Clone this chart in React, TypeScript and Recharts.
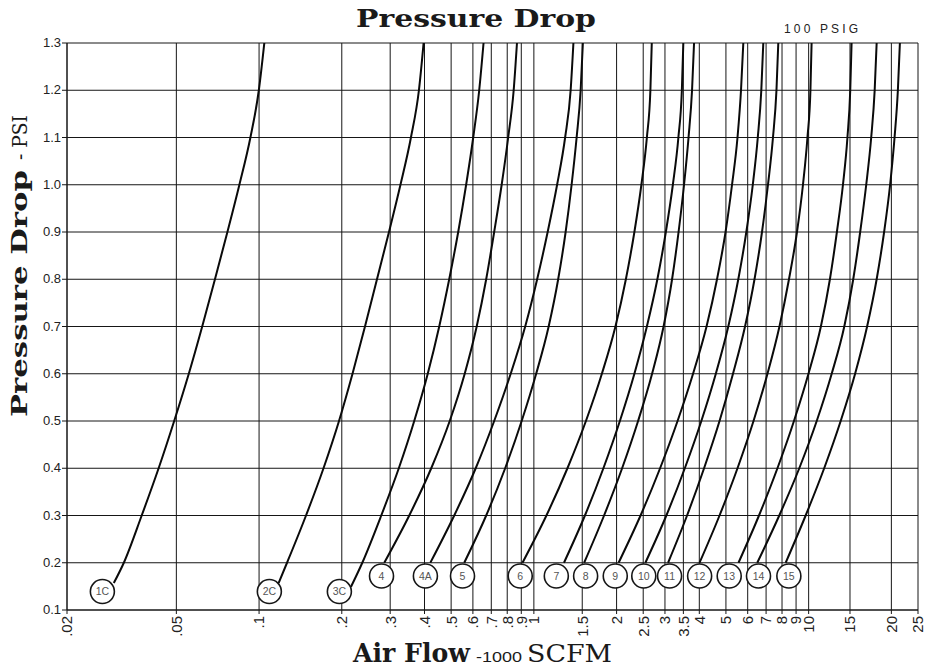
import React from 'react';
import { ComposedChart, Line, Scatter, XAxis, YAxis, CartesianGrid } from 'recharts';

// Pressure-drop levels (PSI) at which each curve's flow was read
const dropLevels = [0.2, 0.3, 0.4, 0.5, 0.6, 0.7, 0.8, 0.9, 1.0, 1.1, 1.2, 1.3];

// Air flow (1000 SCFM) of each curve at the drop levels above
const flow1C = [0.0322, 0.0374, 0.0431, 0.0491, 0.0555, 0.0621, 0.0691, 0.0767, 0.0848, 0.093, 0.0998, 0.1045];
const flow2C = [0.1264, 0.1482, 0.1716, 0.1954, 0.2188, 0.2429, 0.2686, 0.297, 0.327, 0.357, 0.3817, 0.397];
const flow3C = [0.2375, 0.2784, 0.3225, 0.367, 0.411, 0.4525, 0.492, 0.5305, 0.567, 0.6016, 0.6326, 0.656];
const flow4 = [0.2855, 0.352, 0.4232, 0.4941, 0.5602, 0.6194, 0.6707, 0.7171, 0.7636, 0.8064, 0.8444, 0.868];
const flow4A = [0.42, 0.5131, 0.6143, 0.7171, 0.8235, 0.93, 1.028, 1.1226, 1.215, 1.2995, 1.361, 1.393];
const flow5 = [0.558, 0.6707, 0.7863, 0.9029, 1.0195, 1.132, 1.226, 1.305, 1.372, 1.431, 1.48, 1.508];
const flow6 = [0.909, 1.111, 1.325, 1.547, 1.768, 1.981, 2.162, 2.322, 2.462, 2.578, 2.655, 2.686];
const flow7 = [1.287, 1.534, 1.791, 2.056, 2.322, 2.578, 2.815, 3.022, 3.205, 3.357, 3.456, 3.499];
const flow8 = [1.524, 1.801, 2.095, 2.395, 2.693, 2.965, 3.184, 3.362, 3.52, 3.655, 3.764, 3.828];
const flow9 = [2.034, 2.445, 2.88, 3.334, 3.796, 4.25, 4.64, 4.984, 5.262, 5.509, 5.673, 5.784];
const flow10 = [2.546, 3.035, 3.543, 4.069, 4.594, 5.1, 5.546, 5.932, 6.262, 6.53, 6.725, 6.838];
const flow11 = [3.079, 3.61, 4.163, 4.739, 5.305, 5.868, 6.353, 6.765, 7.112, 7.416, 7.636, 7.754];
const flow12 = [4.008, 4.739, 5.509, 6.3, 7.083, 7.83, 8.48, 9.069, 9.535, 9.9, 10.15, 10.25];
const flow13 = [5.555, 6.596, 7.699, 8.842, 9.984, 11.08, 11.95, 12.67, 13.33, 13.84, 14.17, 14.33];
const flow14 = [6.502, 7.817, 9.245, 10.7, 12.13, 13.48, 14.53, 15.4, 16.2, 16.89, 17.39, 17.68];
const flow15 = [8.249, 9.752, 11.39, 13.08, 14.76, 16.32, 17.68, 18.82, 19.79, 20.54, 21.12, 21.48];

const curveNames = ['1C', '2C', '3C', '4', '4A', '5', '6', '7', '8', '9', '10', '11', '12', '13', '14', '15'];
const curveFlows = [flow1C, flow2C, flow3C, flow4, flow4A, flow5, flow6, flow7, flow8, flow9, flow10, flow11, flow12, flow13, flow14, flow15];

// Lead-in points (below 0.2 PSI) where the curves leave their circles
const leadNames = ['1C', '2C', '3C'];
const leadFlows = [0.0296, 0.1178, 0.216];
const leadDrops = [0.157, 0.157, 0.149];

// Circled curve labels
const labelFlows = [0.0269, 0.109, 0.196, 0.279, 0.403, 0.55, 0.892, 1.207, 1.543, 1.978, 2.512, 3.118, 4.011, 5.139, 6.569, 8.472];
const labelDrops = [0.139, 0.139, 0.139, 0.172, 0.172, 0.172, 0.172, 0.172, 0.172, 0.172, 0.172, 0.172, 0.172, 0.172, 0.172, 0.172];

// Axis ticks (the original chart draws its "15" line midway between 10 and 20)
const xTickValues = [0.02, 0.05, 0.1, 0.2, 0.3, 0.4, 0.5, 0.6, 0.7, 0.8, 0.9, 1, 1.5, 2, 2.5, 3, 3.5, 4, 5, 6, 7, 8, 9, 10, 14.14, 20, 25];
const xTickLabels = ['.02', '.05', '.1', '.2', '.3', '.4', '.5', '.6', '.7', '.8', '.9', '1', '1.5', '2', '2.5', '3', '3.5', '4', '5', '6', '7', '8', '9', '10', '15', '20', '25'];
const yTickValues = [0.1, 0.2, 0.3, 0.4, 0.5, 0.6, 0.7, 0.8, 0.9, 1.0, 1.1, 1.2, 1.3];

const series = curveNames.map((name, i) => {
  const pts = dropLevels.map((d, j) => ({ x: curveFlows[i][j], y: d }));
  const li = leadNames.indexOf(name);
  if (li >= 0) pts.unshift({ x: leadFlows[li], y: leadDrops[li] });
  return { name, pts };
});

const labelData = curveNames.map((name, i) => ({ x: labelFlows[i], y: labelDrops[i], name }));

const INK = '#161616';
const SANS = '"Liberation Sans", Arial, Helvetica, sans-serif';
const SERIF = '"DejaVu Serif", "Liberation Serif", serif';

const XTick = (props: any) => {
  const { x, y, payload } = props;
  const idx = xTickValues.indexOf(payload.value);
  const label = idx >= 0 ? xTickLabels[idx] : String(payload.value);
  return (
    <text
      x={x}
      y={y}
      transform={`rotate(-90, ${x}, ${y})`}
      textAnchor="end"
      dy="0.36em"
      fontFamily={SANS}
      fontSize={15}
      fill="#222"
    >
      {label}
    </text>
  );
};

const YTick = (props: any) => {
  const { x, y, payload } = props;
  return (
    <text x={x} y={y} textAnchor="end" dy="0.32em" fontFamily={SANS} fontSize={13} fill="#222">
      {Number(payload.value).toFixed(1)}
    </text>
  );
};

const renderLabel = (props: any) => {
  const { cx, cy, payload } = props;
  return (
    <g>
      <circle cx={cx} cy={cy} r={12} fill="#fff" stroke={INK} strokeWidth={1.6} />
      <text x={cx} y={cy} dy="0.35em" textAnchor="middle" fontFamily={SANS} fontSize={10.5} fill="#555">
        {payload.name}
      </text>
    </g>
  );
};

export default function App() {
  return (
    <div style={{ position: 'absolute', left: 0, top: 0, width: 926, height: 668, background: '#fff' }}>
      <ComposedChart width={926} height={668} margin={{ top: 43, right: 8, bottom: 0, left: 0 }}>
        <CartesianGrid stroke={INK} strokeWidth={1} />
        <XAxis
          type="number"
          dataKey="x"
          scale="log"
          domain={[0.02, 25]}
          ticks={xTickValues}
          allowDataOverflow
          interval={0}
          height={58}
          tick={<XTick />}
          tickSize={4}
          tickMargin={2}
          stroke={INK}
        />
        <YAxis
          type="number"
          dataKey="y"
          domain={[0.1, 1.3]}
          ticks={yTickValues}
          allowDataOverflow
          interval={0}
          width={67}
          tick={<YTick />}
          tickSize={5}
          tickMargin={1}
          stroke={INK}
        />
        {series.map((s) => (
          <Line
            key={s.name}
            data={s.pts}
            dataKey="y"
            type="monotone"
            stroke="#0a0a0a"
            strokeWidth={2}
            dot={false}
            activeDot={false}
            isAnimationActive={false}
          />
        ))}
        <Scatter data={labelData} dataKey="y" shape={renderLabel} isAnimationActive={false} />
      </ComposedChart>
      <svg width={926} height={668} style={{ position: 'absolute', left: 0, top: 0, pointerEvents: 'none' }}>
        <text x={356} y={27} fontFamily={SERIF} fontWeight="bold" fontSize={24} fill="#1a1a1a" textLength={240} lengthAdjust="spacingAndGlyphs">
          Pressure Drop
        </text>
        <text x={784} y={33} fontFamily={SANS} fontSize={12} fill="#222" textLength={74} lengthAdjust="spacing">
          100 PSIG
        </text>
        <text x={27} y={417} transform="rotate(-90, 27, 417)" fontFamily={SERIF} fontWeight="bold" fontSize={22} fill="#1a1a1a" textLength={247} lengthAdjust="spacingAndGlyphs">
          Pressure Drop
        </text>
        <text x={27} y={160} transform="rotate(-90, 27, 160)" fontFamily={SERIF} fontSize={20} fill="#1a1a1a" textLength={45} lengthAdjust="spacingAndGlyphs">
          - PSI
        </text>
        <text x={353} y={662} fontFamily={SERIF} fontWeight="bold" fontSize={26} fill="#1a1a1a" textLength={117} lengthAdjust="spacingAndGlyphs">
          Air Flow
        </text>
        <text x={476} y={662} fontFamily={SANS} fontSize={15} fill="#1a1a1a" textLength={46} lengthAdjust="spacingAndGlyphs">
          -1000
        </text>
        <text x={527} y={662} fontFamily={SERIF} fontSize={25} fill="#1a1a1a" textLength={85} lengthAdjust="spacingAndGlyphs">
          SCFM
        </text>
      </svg>
    </div>
  );
}
